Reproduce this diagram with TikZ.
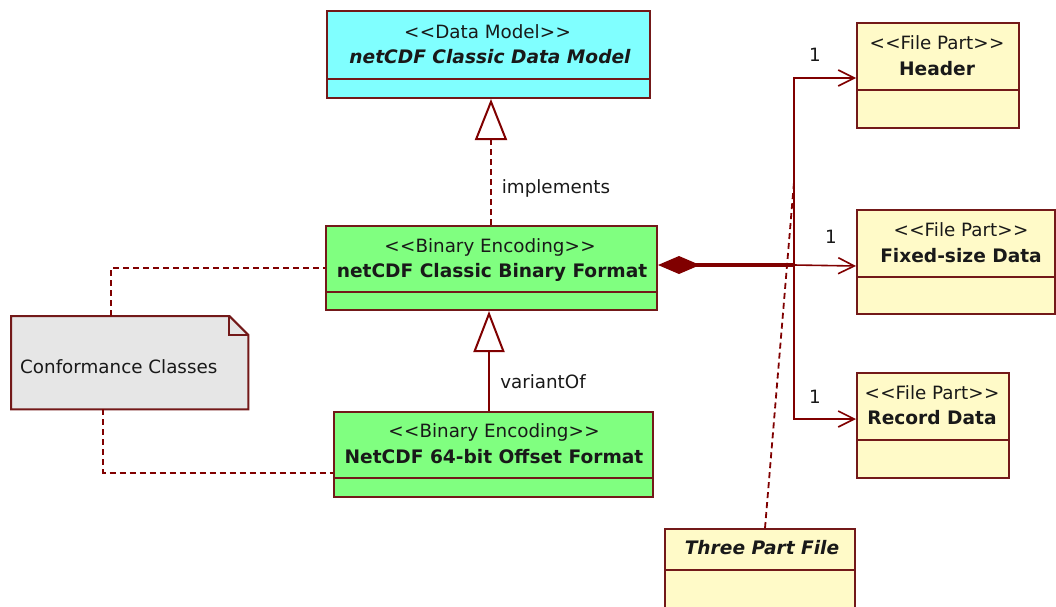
\documentclass[tikz,border=0pt]{standalone}
\usepackage{fontspec}
\setmainfont{DejaVu Sans}
\usetikzlibrary{arrows.meta}
\definecolor{bord}{RGB}{115,25,25}
\definecolor{lnk}{RGB}{128,0,0}
\definecolor{cyanf}{RGB}{128,255,255}
\definecolor{greenf}{RGB}{128,255,128}
\definecolor{yellf}{RGB}{255,250,200}
\definecolor{notef}{RGB}{230,230,230}
\definecolor{txt}{RGB}{25,25,25}
\newcommand{\stereo}[1]{<\kern0.5pt<#1>\kern0.5pt>}
\begin{document}
\begin{tikzpicture}[x=1pt,y=-1pt,
  every node/.style={font=\fontsize{18.3}{22}\selectfont, inner sep=0pt, text=txt},
  cls/.style={draw=bord, line width=2pt, rectangle, anchor=north west},
  sepline/.style={draw=bord, line width=2pt},
  dep/.style={draw=lnk, line width=1.8pt, dash pattern=on 6pt off 4pt},
  assoc/.style={draw=lnk, line width=1.6pt, -{Straight Barb[length=16pt,width=16pt]}},
  real/.style={draw=lnk, line width=2pt, dash pattern=on 6pt off 4pt, -{Triangle[open,length=41pt,width=32pt,fill=white]}},
  gen/.style={draw=lnk, line width=2pt, -{Triangle[open,length=41pt,width=31pt,fill=white]}},
  comp/.style={draw=lnk, line width=3.2pt, {Diamond[length=42pt,width=18pt,fill=lnk]}-},
  lbl/.style={font=\fontsize{18.3}{22}\selectfont},
  bld/.style={font=\fontsize{18.6}{22}\selectfont\bfseries},
  bldit/.style={font=\fontsize{18.6}{22}\selectfont\bfseries\itshape},
]
\useasboundingbox (0,0) rectangle (1056,606);
\clip (0,0) rectangle (1056,606);

% ---- class boxes
\node[cls, fill=cyanf, minimum width=323pt, minimum height=87pt] (dm) at (326,10) {};
\draw[sepline] (dm.west |- 0,79) -- (dm.east |- 0,79);
\node[lbl] (dmst) at (487.5,32) {\stereo{Data Model}};
\node[bldit] (dmnm) at (490,57) {netCDF Classic Data Model};

\node[cls, fill=greenf, minimum width=331pt, minimum height=84pt] (cbf) at (325,225) {};
\draw[sepline] (cbf.west |- 0,292) -- (cbf.east |- 0,292);
\node[lbl] (cbfst) at (490,247) {\stereo{Binary Encoding}};
\node[bld] (cbfnm) at (492,272) {netCDF Classic Binary Format};

\node[cls, fill=greenf, minimum width=319pt, minimum height=85pt] (ofs) at (333,411) {};
\draw[sepline] (ofs.west |- 0,478) -- (ofs.east |- 0,478);
\node[lbl] (ofsst) at (494,432) {\stereo{Binary Encoding}};
\node[bld] (ofsnm) at (494,457) {NetCDF 64-bit Offset Format};

\node[cls, fill=yellf, minimum width=162pt, minimum height=105pt] (hdr) at (856,22) {};
\draw[sepline] (hdr.west |- 0,90) -- (hdr.east |- 0,90);
\node[lbl] (hdrst) at (937,43) {\stereo{File Part}};
\node[bld] (hdrnm) at (937,69) {Header};

\node[cls, fill=yellf, minimum width=198pt, minimum height=104pt] (fsd) at (856,209) {};
\draw[sepline] (fsd.west |- 0,277) -- (fsd.east |- 0,277);
\node[lbl] (fsdst) at (961,230) {\stereo{File Part}};
\node[bld] (fsdnm) at (961,256) {Fixed-size Data};

\node[cls, fill=yellf, minimum width=152pt, minimum height=105pt] (rec) at (856,372) {};
\draw[sepline] (rec.west |- 0,440) -- (rec.east |- 0,440);
\node[lbl] (recst) at (932,393) {\stereo{File Part}};
\node[bld] (recnm) at (932,418) {Record Data};

\node[cls, fill=yellf, minimum width=190pt, minimum height=90pt] (tpf) at (664,528) {};
\draw[sepline] (tpf.west |- 0,570) -- (tpf.east |- 0,570);
\node[bldit] (tpfnm) at (762,548) {Three Part File};

% ---- note
\node[minimum width=237pt, minimum height=93pt, anchor=north west] (note) at (11,316) {};
\draw[draw=bord, fill=notef, line width=2pt]
  (note.north west) -- ([xshift=-19pt]note.north east) -- ([yshift=-19pt]note.north east)
  -- (note.south east) -- (note.south west) -- cycle;
\draw[draw=bord, line width=2pt] ([xshift=-19pt]note.north east) |- ([yshift=-19pt]note.north east);
\node[lbl, anchor=west] (notetxt) at (20,367) {Conformance Classes};

% ---- connectors
\coordinate (junction) at (794,265);
\coordinate (tpftop) at (794,182);

\draw[real] ([xshift=-0.5pt]cbf.north) -- ([xshift=-0.5pt]cbf.north |- dm.south);
\node[lbl] (impl) at (556,188) {implements};

\draw[gen] ([xshift=-2.5pt]ofs.north -| cbf.south) -- ([xshift=-2.5pt]cbf.south);
\node[lbl] (var) at (543,382) {variantOf};

\draw[comp] (junction -| cbf.east) -- (junction);
\draw[assoc] (junction) -- ([yshift=-4pt]fsd.west);
\draw[assoc] (junction) |- ([yshift=-2.5pt]hdr.west);
\draw[assoc] (junction) |- ([yshift=6.5pt]rec.west);
\node[lbl] (m1) at (815,55) {1};
\node[lbl] (m2) at (831,237) {1};
\node[lbl] (m3) at (815,397) {1};

\draw[dep] ([xshift=5pt]tpf.north) -- (tpftop);
\draw[dep] ([xshift=-18.5pt]note.north) |- (cbf.west);
\draw[dep] ([xshift=-26.5pt]note.south) |- ([yshift=-18.5pt]ofs.west);
\end{tikzpicture}
\end{document}
